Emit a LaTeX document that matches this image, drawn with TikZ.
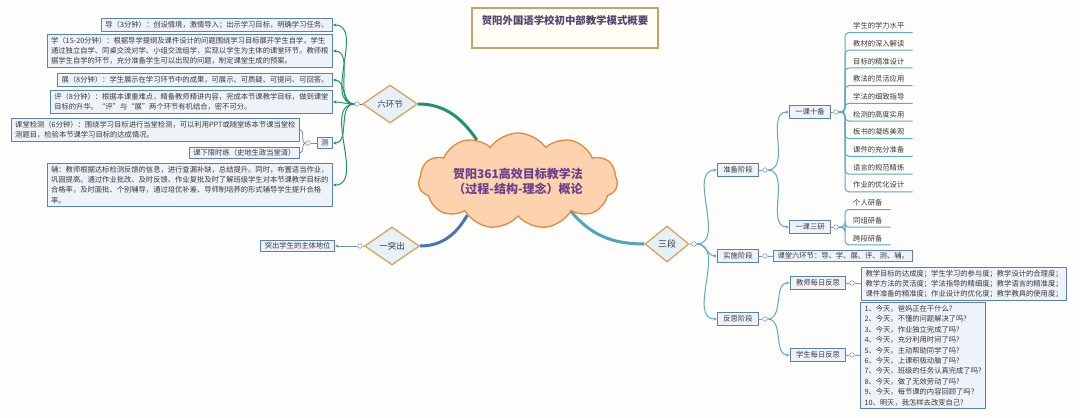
\documentclass[tikz,border=0pt]{standalone}
\usepackage{fontspec}
\setmainfont{Noto Sans CJK SC}
\usetikzlibrary{arrows.meta}
\usetikzlibrary{shapes.geometric,shapes.symbols}

\definecolor{bgpaper}{HTML}{FDFDFC}
\definecolor{boxline}{HTML}{5B80B6}
\definecolor{boxfill}{HTML}{EEF2F9}
\definecolor{dmline}{HTML}{D9A25D}
\definecolor{dmfill}{HTML}{E6F1F7}
\definecolor{cloudline}{HTML}{E5883C}
\definecolor{cloudfill}{HTML}{FCD3AE}
\definecolor{cloudtext}{HTML}{6A3F8C}
\definecolor{titleline}{HTML}{C9A26B}
\definecolor{titlefill}{HTML}{FFFDF4}
\definecolor{titletext}{HTML}{54466E}
\definecolor{greenbr}{HTML}{1F936F}
\definecolor{bluebr}{HTML}{4A74B4}
\definecolor{tealbr}{HTML}{4FA6BA}
\definecolor{thinbr}{HTML}{5FA9C2}
\definecolor{cebr}{HTML}{6C8CC0}
\definecolor{dotline}{HTML}{8A9BB0}
\definecolor{txt}{HTML}{3A3A3A}

\begin{document}
\begin{tikzpicture}[x=1pt,y=-1pt,>={Stealth[length=3.5pt,width=3.2pt]}]

		\tikzset{
			box/.style={
				draw=boxline,
				fill=boxfill,
				line width=1pt,
				inner xsep=4pt,
				inner ysep=2.5pt,
				align=left,
				text=txt,
				font=\fontsize{7.3}{10.2}\selectfont
			},
			stage/.style={box, inner xsep=6pt, inner ysep=3pt},
			dm/.style={
				diamond,
				aspect=1.45,
				draw=dmline,
				fill=dmfill,
				line width=1.3pt,
				minimum width=55pt,
				minimum height=38pt,
				inner sep=0pt,
				text=txt,
				font=\fontsize{8.5}{10}\selectfont
			},
			leaf/.style={anchor=south west, inner xsep=8pt, inner ysep=3pt, text=txt, font=\fontsize{7.3}{9}\selectfont},
			dot/.style={circle, draw=dotline, fill=white, line width=0.6pt, minimum size=4.5pt, inner sep=0pt},
			gbr/.style={draw=greenbr, line width=1pt},
			tbr/.style={draw=thinbr, line width=1pt},
			cbr/.style={draw=cebr, line width=0.8pt},
			titlebox/.style={
				draw=titleline,
				fill=titlefill,
				line width=1.2pt,
				minimum width=186pt,
				minimum height=40pt,
				inner ysep=7pt,
				text depth=17pt,
				text=titletext,
				font=\fontsize{10.4}{12}\selectfont\bfseries
			},
			topic/.style={
				cloud,
				cloud puffs=11,
				cloud puff arc=110,
				aspect=2.55,
				draw=cloudline,
				fill=cloudfill,
				line width=1.3pt,
				minimum width=199pt,
				minimum height=78pt,
				inner sep=0pt,
				align=center,
				text=cloudtext,
				font=\fontsize{12}{15}\selectfont\bfseries
			}
		}

		\fill[bgpaper] (0,0) rectangle (1080,418);

		\node[titlebox] (title) at (565,28) {贺阳外国语学校初中部教学模式概要};

		\node[topic] (cl) at (518,181)
		{贺阳361高效目标教学法\\（过程-结构-理念）概论};

		\node[dm] (lh) at (390,104) {六环节};
		\node[dm] (tc) at (392,246) {一突出};
		\node[dm, minimum width=44pt, minimum height=36pt, font=\fontsize{9}{10}\selectfont] (sd) at (667,244) {三段};

		% 六环节
		\node[box, anchor=east] (dao) at (333,25)
		{导（3分钟）：创设情境，激情导入；出示学习目标，明确学习任务。};
		\node[box, anchor=east] (xue) at (333,51)
		{学（15-20分钟）：根据导学提纲及课件设计的问题围绕学习目标展开学生自学，学生\\
		 通过独立自学、同桌交流对学、小组交流组学，实现以学生为主体的课堂环节。教师根\\
		 据学生自学的环节，充分准备学生可以出现的问题，制定课堂生成的预案。};
		\node[box, anchor=east] (zhan) at (333,80)
		{展（8分钟）：学生展示在学习环节中的成果，可展示、可质疑、可提问、可回答。};
		\node[box, anchor=east] (ping) at (333,102)
		{评（8分钟）：根据本课重难点，精备教师精讲内容，完成本节课教学目标，做到课堂\\
		 目标的升华。“评”与“展”两个环节有机结合，密不可分。};
		\node[box, anchor=east] (jc) at (300,130)
		{课堂检测（6分钟）：围绕学习目标进行当堂检测，可以利用PPT或随堂练本节课当堂检\\
		 测题目，检验本节课学习目标的达成情况。};
		\node[box, anchor=east] (xl) at (300,153) {课下限时练（史地生政当堂清）};
		\node[box, anchor=east] (ce) at (333,143) {测};
		\node[box, anchor=east] (fu) at (333,185)
		{辅：教师根据达标检测反馈的信息，进行查漏补缺，总结提升。同时，布置适当作业，\\
		 巩固提高。通过作业批改、及时反馈、作业复批及时了解班级学生对本节课教学目标的\\
		 合格率，及时面批、个别辅导，通过培优补差、导师制培养的形式辅导学生提升合格\\
		 率。};

		\node[box, anchor=east] (zt) at (335,246) {突出学生的主体地位};

		% 三段
		\node[stage] (zb) at (738,170) {准备阶段};
		\node[stage] (ss) at (738,256) {实施阶段};
		\node[stage] (fs) at (738,319) {反思阶段};
		\node[stage] (ten) at (810,112) {一课十备};
		\node[stage] (thr) at (810,227) {一课三研};
		\node[box, anchor=west] (ljh) at (773,256) {课堂六环节：导、学、展、评、测、辅。};
		\node[stage] (jsfs) at (818,283) {教师每日反思};
		\node[stage] (xsfs) at (818,355) {学生每日反思};
		\node[box, anchor=west] (jsbox) at (861,284)
		{教学目标的达成度；学生学习的参与度；教学设计的合理度；\\
		 教学方法的灵活度；学法指导的精细度；教学语言的精准度；\\
		 课件准备的精准度；作业设计的优化度；教学教具的使用度；};
		\node[box, anchor=west, font=\fontsize{7.3}{10.4}\selectfont] (xsbox) at (860,355.5)
		{1、今天，爸妈正在干什么?\\
		 2、今天，不懂的问题解决了吗?\\
		 3、今天，作业独立完成了吗?\\
		 4、今天，充分利用时间了吗?\\
		 5、今天，主动帮助同学了吗?\\
		 6、今天，上课积极动脑了吗?\\
		 7、今天，班级的任务认真完成了吗?\\
		 8、今天，做了无效劳动了吗?\\
		 9、今天，每节课的内容回顾了吗？\\
		 10、明天，我怎样去改变自己?};

		\node[leaf] (t1) at (845,32.5) {学生的学力水平};
		\node[leaf] (t2) at (845,50.2) {教材的深入解读};
		\node[leaf] (t3) at (845,67.9) {目标的精准设计};
		\node[leaf] (t4) at (845,85.6) {教法的灵活应用};
		\node[leaf] (t5) at (845,103.3) {学法的细致指导};
		\node[leaf] (t6) at (845,121) {检测的高度实用};
		\node[leaf] (t7) at (845,138.7) {板书的凝练美观};
		\node[leaf] (t8) at (845,156.4) {课件的充分准备};
		\node[leaf] (t9) at (845,174.1) {语言的规范精炼};
		\node[leaf] (t10) at (845,191.8) {作业的优化设计};
		\node[leaf] (s1) at (845,209.5) {个人研备};
		\node[leaf] (s2) at (845,227.2) {同组研备};
		\node[leaf] (s3) at (845,244.9) {跨段研备};

		\node[dot] (lhd) at (357,104) {};
		\node[dot] (ced) at (308,143) {};
		\node[dot] (tcd) at (360,246) {};
		\node[dot] (sdd) at (694,244) {};
		\node[dot] (zbd) at (765,170) {};
		\node[dot] (ssd) at (765,256) {};
		\node[dot] (fsd) at (765,319) {};
		\node[dot] (tend) at (836,112) {};
		\node[dot] (thrd) at (836,227) {};
		\node[dot] (jsd) at (852,283) {};
		\node[dot] (xsd) at (852,355) {};

		\draw[greenbr, line width=3pt] (lh.east) to[out=0,in=125] (cl.135);
		\draw[bluebr, line width=3pt] (tc.east) to[out=0,in=240] (cl.214);
		\draw[tealbr, line width=3pt] (cl.330) to[out=-50,in=180] (sd.west);

		\draw[gbr] (lh.west) -- (lhd.east);
		\draw[gbr,->] (lhd.west) to[out=180,in=0] (dao.east);
		\draw[gbr,->] (lhd.west) to[out=180,in=0] (xue.east);
		\draw[gbr,->] (lhd.west) to[out=180,in=0] (zhan.east);
		\draw[gbr,->] (lhd.west) to[out=180,in=0] (ping.east);
		\draw[gbr,->] (lhd.west) to[out=180,in=0] (ce.east);
		\draw[gbr,->] (lhd.west) to[out=180,in=0] (fu.east);
		\draw[cbr] (ce.west) -- (ced.east);
		\draw[cbr] (ced.west) to[out=180,in=0] (jc.east);
		\draw[cbr] (ced.west) to[out=180,in=0] (xl.east);

		\draw[cbr] (tc.west) -- (tcd.east);
		\draw[cbr,->] (tcd.west) -- (zt.east);

		\draw[tbr] (sd.east) -- (sdd.west);
		\draw[tbr,->] (sdd.east) to[out=0,in=180] (zb.west);
		\draw[tbr,->] (sdd.east) to[out=0,in=180] (ss.west);
		\draw[tbr,->] (sdd.east) to[out=0,in=180] (fs.west);

		\draw[tbr] (zb.east) -- (zbd.west);
		\draw[tbr,->] (zbd.east) to[out=0,in=180] (ten.west);
		\draw[tbr,->] (zbd.east) to[out=0,in=180] (thr.west);
		\draw[tbr] (ss.east) -- (ssd.west);
		\draw[tbr] (ssd.east) -- (ljh.west);
		\draw[tbr] (fs.east) -- (fsd.west);
		\draw[tbr,->] (fsd.east) to[out=0,in=180] (jsfs.west);
		\draw[tbr,->] (fsd.east) to[out=0,in=180] (xsfs.west);
		\draw[tbr] (jsfs.east) -- (jsd.west);
		\draw[tbr] (jsd.east) -- (jsbox.west);
		\draw[tbr] (xsfs.east) -- (xsd.west);
		\draw[tbr] (xsd.east) -- (xsbox.west);

		\draw[tbr] (ten.east) -- (tend.west);
		\draw[tbr, rounded corners=4pt] (tend.east) -| (t1.south west) -- (t1.south east);
		\draw[tbr, rounded corners=4pt] (tend.east) -| (t2.south west) -- (t2.south east);
		\draw[tbr, rounded corners=4pt] (tend.east) -| (t3.south west) -- (t3.south east);
		\draw[tbr, rounded corners=4pt] (tend.east) -| (t4.south west) -- (t4.south east);
		\draw[tbr, rounded corners=4pt] (tend.east) -| (t5.south west) -- (t5.south east);
		\draw[tbr, rounded corners=4pt] (tend.east) -| (t6.south west) -- (t6.south east);
		\draw[tbr, rounded corners=4pt] (tend.east) -| (t7.south west) -- (t7.south east);
		\draw[tbr, rounded corners=4pt] (tend.east) -| (t8.south west) -- (t8.south east);
		\draw[tbr, rounded corners=4pt] (tend.east) -| (t9.south west) -- (t9.south east);
		\draw[tbr, rounded corners=4pt] (tend.east) -| (t10.south west) -- (t10.south east);
		\draw[tbr] (thr.east) -- (thrd.west);
		\draw[tbr, rounded corners=4pt] (thrd.east) -| (s1.south west) -- (s1.south east);
		\draw[tbr, rounded corners=4pt] (thrd.east) -| (s2.south west) -- (s2.south east);
		\draw[tbr, rounded corners=4pt] (thrd.east) -| (s3.south west) -- (s3.south east);

\end{tikzpicture}
\end{document}
